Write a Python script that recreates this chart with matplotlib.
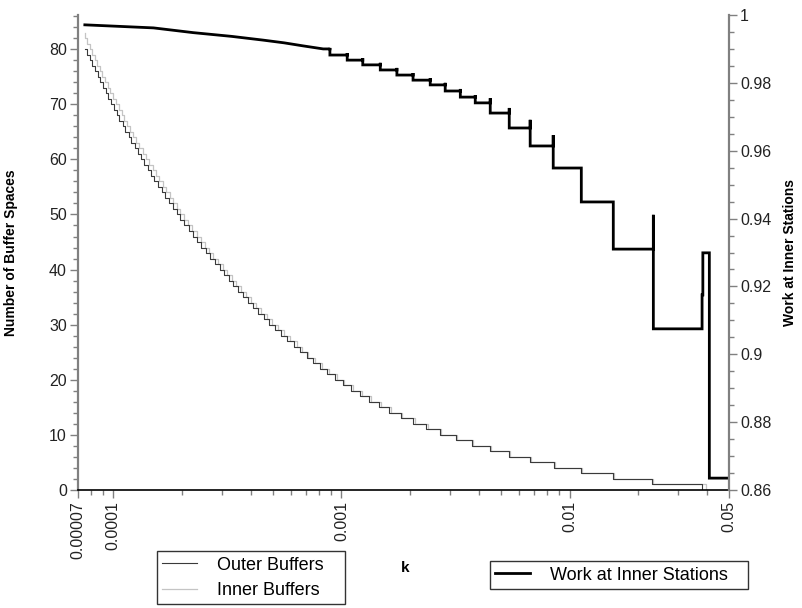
import matplotlib.pyplot as plt
from matplotlib.ticker import FixedLocator, MultipleLocator, NullFormatter, FormatStrFormatter
from matplotlib.lines import Line2D

plt.rcParams['font.family'] = ['Liberation Sans', 'DejaVu Sans']

# === data ===
k_start = 7.5e-5
k_end = 0.041

# k at which the number of outer buffer spaces drops by one (80 -> 79, ..., 1 -> 0)
outer_start = 80
outer_k = [
    7.70e-5, 7.89e-5, 8.10e-5, 8.31e-5, 8.53e-5, 8.76e-5, 8.99e-5, 9.24e-5, 9.51e-5, 9.77e-5,
    1.005e-4, 1.035e-4, 1.064e-4, 1.097e-4, 1.130e-4, 1.166e-4, 1.201e-4, 1.240e-4, 1.281e-4, 1.323e-4,
    1.368e-4, 1.414e-4, 1.463e-4, 1.514e-4, 1.569e-4, 1.627e-4, 1.687e-4, 1.753e-4, 1.820e-4, 1.893e-4,
    1.969e-4, 2.050e-4, 2.136e-4, 2.227e-4, 2.326e-4, 2.432e-4, 2.542e-4, 2.663e-4, 2.792e-4, 2.927e-4,
    3.063e-4, 3.202e-4, 3.355e-4, 3.520e-4, 3.698e-4, 3.885e-4, 4.094e-4, 4.316e-4, 4.558e-4, 4.829e-4,
    5.118e-4, 5.439e-4, 5.789e-4, 6.176e-4, 6.595e-4, 7.029e-4, 7.505e-4, 8.048e-4, 8.656e-4, 9.335e-4,
    1.011e-3, 1.100e-3, 1.201e-3, 1.319e-3, 1.457e-3, 1.621e-3, 1.816e-3, 2.052e-3, 2.345e-3, 2.710e-3,
    3.185e-3, 3.743e-3, 4.49e-3, 5.44e-3, 6.72e-3, 8.57e-3, 1.126e-2, 1.555e-2, 2.305e-2, 3.81e-2,
]

# same for inner buffers (83 -> 82, ..., 1 -> 0)
inner_start = 83
inner_k = [
    7.55e-5, 7.70e-5, 7.89e-5,
    8.09e-5, 8.28e-5, 8.51e-5, 8.73e-5, 8.96e-5, 9.20e-5, 9.44e-5, 9.70e-5, 9.99e-5, 1.026e-4,
    1.055e-4, 1.087e-4, 1.117e-4, 1.152e-4, 1.187e-4, 1.224e-4, 1.261e-4, 1.302e-4, 1.345e-4, 1.389e-4,
    1.436e-4, 1.485e-4, 1.536e-4, 1.590e-4, 1.647e-4, 1.708e-4, 1.771e-4, 1.823e-4, 1.893e-4, 1.969e-4,
    2.048e-4, 2.132e-4, 2.221e-4, 2.316e-4, 2.419e-4, 2.529e-4, 2.618e-4, 2.743e-4, 2.876e-4, 3.015e-4,
    3.155e-4, 3.298e-4, 3.456e-4, 3.626e-4, 3.809e-4, 4.002e-4, 4.217e-4, 4.445e-4, 4.695e-4, 4.974e-4,
    5.272e-4, 5.602e-4, 5.963e-4, 6.361e-4, 6.727e-4, 7.170e-4, 7.655e-4, 8.209e-4, 8.829e-4, 9.522e-4,
    1.031e-3, 1.122e-3, 1.225e-3, 1.345e-3, 1.486e-3, 1.653e-3, 1.852e-3, 2.093e-3, 2.392e-3, 2.737e-3,
    3.217e-3, 3.780e-3, 4.53e-3, 5.49e-3, 6.79e-3, 8.66e-3, 1.137e-2, 1.571e-2, 2.328e-2, 3.97e-2,
]

# work at inner stations: smooth start, then jumps (spike top, level after)
work_smooth_k = [7.5e-5, 1.5e-4, 2.24e-4, 3.3e-4, 4.53e-4, 5.6e-4, 6.79e-4, 8.32e-4]
work_smooth_w = [0.9971, 0.9962, 0.9948, 0.9937, 0.9926, 0.9918, 0.9909, 0.9900]
work_step_k = [8.9e-4, 1.06e-3, 1.24e-3, 1.48e-3, 1.75e-3, 2.06e-3, 2.45e-3, 2.85e-3, 3.32e-3,
               3.86e-3, 4.49e-3, 5.44e-3, 6.72e-3, 8.48e-3, 0.01126, 0.01555, 0.0233, 0.0381,
               0.0384, 0.0410]
work_step_top = [0.9903, 0.9888, 0.9873, 0.9859, 0.9844, 0.9829, 0.9814, 0.9800, 0.9782,
                 0.9764, 0.9755, 0.9726, 0.9691, 0.9646, 0.9549, 0.9449, 0.9411, 0.9175,
                 0.9299, 0.9299]
work_step_low = [0.9882, 0.9867, 0.9853, 0.9838, 0.9823, 0.9808, 0.9794, 0.9776, 0.9758,
                 0.9741, 0.9711, 0.9667, 0.9614, 0.9549, 0.9449, 0.9310, 0.9075, 0.9175,
                 0.9299, 0.8635]
work_end_k = 0.05

x_ticks = [0.00007, 0.0001, 0.001, 0.01, 0.05]
x_tick_labels = ['0.00007', '0.0001', '0.001', '0.01', '0.05']


def staircase(start_level, breaks):
    xs = [k_start] + breaks + [k_end]
    ys = list(range(start_level, -1, -1)) + [0]
    return xs, ys


def work_path():
    xs = list(work_smooth_k)
    ys = list(work_smooth_w)
    prev = ys[-1]
    for k, top, low in zip(work_step_k, work_step_top, work_step_low):
        xs += [k, k, k]
        ys += [prev, top, low]
        prev = low
    xs.append(work_end_k)
    ys.append(prev)
    return xs, ys


fig = plt.figure(figsize=(8.02, 6.08), dpi=100)
ax = fig.add_axes([78 / 802, 1 - 490 / 608, 651 / 802, 475 / 608])
ax2 = ax.twinx()

ix, iy = staircase(inner_start, inner_k)
ox, oy = staircase(outer_start, outer_k)
ax.step(ix, iy, where='post', color='#c4c4c4', lw=0.9)
ax.step(ox, oy, where='post', color='#3a3a3a', lw=0.8)

wx, wy = work_path()
ax2.plot(wx, wy, color='black', lw=2.0, solid_joinstyle='miter')

ax.set_xscale('log')
ax.set_xlim(7e-5, 0.05)
ax.set_ylim(0, 86.2)
ax2.set_ylim(0.86, 1.0)

ax.xaxis.set_major_locator(FixedLocator(x_ticks))
ax.set_xticklabels(x_tick_labels, rotation=90)
minor_x = [m * 10.0 ** e for e in range(-5, -1) for m in range(2, 10)]
minor_x = [v for v in minor_x if 7e-5 < v < 0.05 and v not in x_ticks]
ax.xaxis.set_minor_locator(FixedLocator(minor_x))
ax.xaxis.set_minor_formatter(NullFormatter())

ax.yaxis.set_major_locator(MultipleLocator(10))
ax.yaxis.set_minor_locator(MultipleLocator(2))
ax2.yaxis.set_major_locator(MultipleLocator(0.02))
ax2.yaxis.set_minor_locator(MultipleLocator(0.005))
ax2.yaxis.set_major_formatter(FormatStrFormatter('%g'))

for a in (ax, ax2):
    a.spines['top'].set_visible(False)
    a.tick_params(which='major', length=6, width=1, color='#808080', labelsize=11.5,
                  labelcolor='#222222', pad=2)
    a.tick_params(which='minor', length=3.5, width=1, color='#808080')
ax.spines['left'].set_color('#808080')
ax.spines['left'].set_linewidth(1.6)
ax2.spines['right'].set_color('#808080')
ax2.spines['right'].set_linewidth(1.6)
ax2.spines['left'].set_visible(False)
ax.spines['right'].set_visible(False)
ax.spines['bottom'].set_color('black')
ax.spines['bottom'].set_linewidth(1.2)
ax2.spines['bottom'].set_visible(False)

ax.set_ylabel('Number of Buffer Spaces', fontsize=10, fontweight='bold')
ax.yaxis.set_label_coords(-0.092, 0.5)
ax2.set_ylabel('Work at Inner Stations', fontsize=10, fontweight='bold', rotation=90,
               va='center')
ax2.yaxis.set_label_coords(1.093, 0.5)

fig.text(405 / 802, 1 - 568 / 608, 'k', fontsize=11, fontweight='bold', ha='center', va='center')

h1 = [Line2D([], [], color='#3a3a3a', lw=0.8), Line2D([], [], color='#c4c4c4', lw=0.9)]
leg1 = fig.legend(h1, ['Outer Buffers', 'Inner Buffers'], loc='upper left',
                  bbox_to_anchor=(157 / 802, 1 - 552 / 608, 188 / 802, 0.001), mode='expand',
                  fontsize=13, frameon=True, fancybox=False, edgecolor='black',
                  handlelength=1.9, handletextpad=1.1, labelspacing=0.45, borderpad=0.3,
                  borderaxespad=0)
leg1.get_frame().set_linewidth(1.0)
h2 = [Line2D([], [], color='black', lw=2.0)]
leg2 = fig.legend(h2, ['Work at Inner Stations'], loc='upper left',
                  bbox_to_anchor=(490 / 802, 1 - 562 / 608, 258 / 802, 0.001), mode='expand',
                  fontsize=13, frameon=True, fancybox=False, edgecolor='black',
                  handlelength=1.9, handletextpad=1.1, borderpad=0.3, borderaxespad=0)
leg2.get_frame().set_linewidth(1.0)

fig.savefig('out.png', dpi=100)
